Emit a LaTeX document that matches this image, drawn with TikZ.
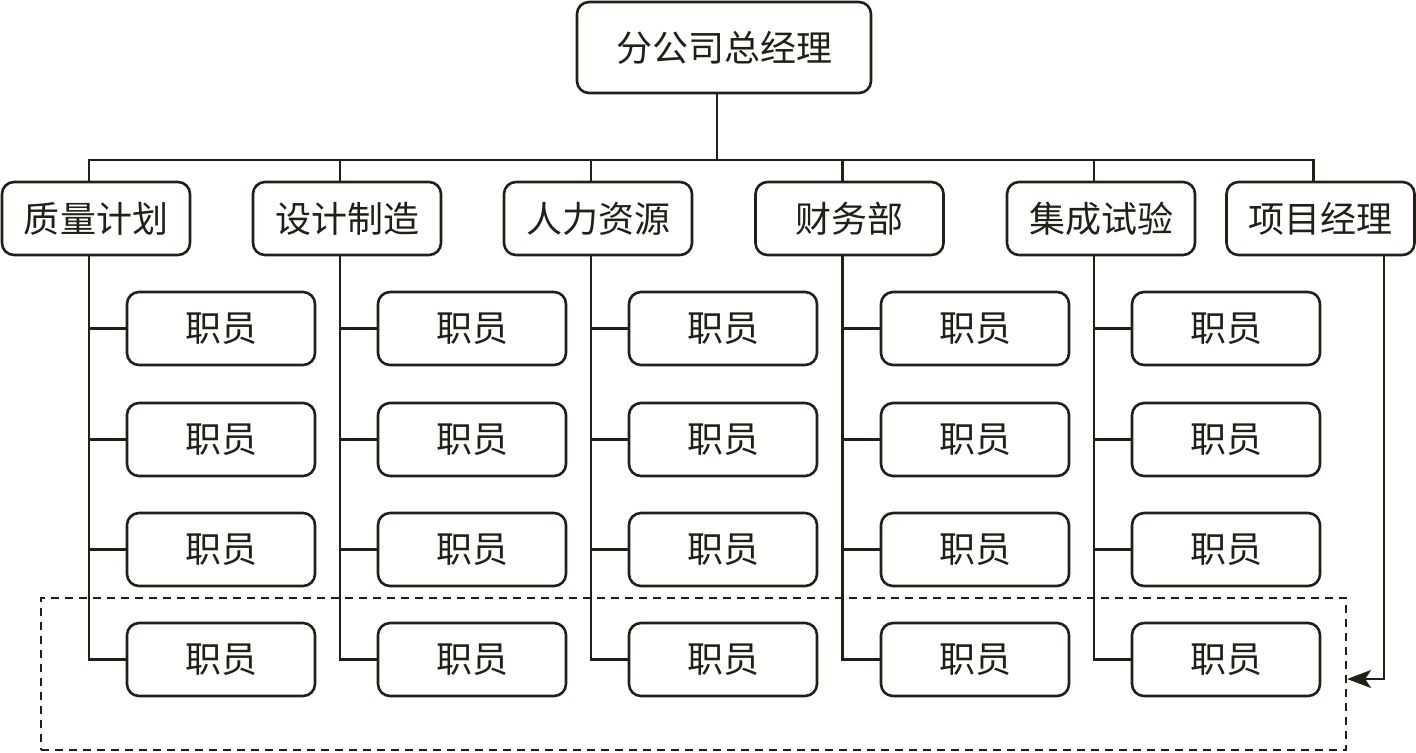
\documentclass[tikz,border=0pt]{standalone}
\usepackage{fontspec}
\newfontfamily\cjk{Noto Sans CJK SC}
\usetikzlibrary{arrows.meta}
\definecolor{ink}{RGB}{34,32,22}

\tikzset{
  box/.style={draw=ink, line width=1.3pt, rounded corners=6pt, fill=white, text=ink,
    font=\cjk\fontsize{18}{20}\selectfont, inner sep=0pt, minimum width=94pt, minimum height=36.5pt},
  topbox/.style={box, minimum width=147pt, minimum height=45.5pt},
  link/.style={draw=ink, line width=1.1pt},
  poolbox/.style={draw=ink, line width=1.1pt, dash pattern=on 4pt off 3pt, inner sep=0pt,
    minimum width=652.5pt, minimum height=76pt}
}

\begin{document}
\begin{tikzpicture}[x=0.5pt,y=-0.5pt]
\useasboundingbox (0,0) rectangle (1416,752);
\coordinate (bus) at (0,160.0);
\node[topbox] (gm) at (724.0,47.5) {分公司总经理};
\node[box] (d1) at (96.0,218.5) {质量计划};
\node[box] (d2) at (347.0,218.5) {设计制造};
\node[box] (d3) at (598.0,218.5) {人力资源};
\node[box] (d4) at (849.5,218.5) {财务部};
\node[box] (d5) at (1101.0,218.5) {集成试验};
\node[box] (d6) at (1320.5,218.5) {项目经理};
\node[poolbox] (pool) at (693.5,674.0) {};
\foreach \i/\x in {1/221.0,2/472.0,3/723.0,4/975.0,5/1226.0}{
  \foreach \j/\y in {1/328.5,2/439.5,3/549.5,4/659.5}{
    \node[box] (s\i-\j) at (\x,\y) {职员};
  }
}
\foreach \i in {1,...,6}{
  \draw[link] ([xshift=-3.5pt]gm.south) -- ([xshift=-3.5pt]gm.south |- bus) -| ([xshift=-3.5pt]d\i.north);
}
\foreach \i in {1,...,5}{
  \draw[link] ([xshift=-3.5pt]d\i.south) |- (s\i-4.west);
  \foreach \j in {1,2,3}{
    \draw[link] (s\i-\j.west) -- ([xshift=-3.5pt]d\i.south |- s\i-\j.west);
  }
}
\draw[link, -{Stealth[length=12pt, width=9pt, inset=3pt]}] ([xshift=31.75pt]d6.south) |- ([yshift=-2.5pt]pool.east);
\end{tikzpicture}
\end{document}
